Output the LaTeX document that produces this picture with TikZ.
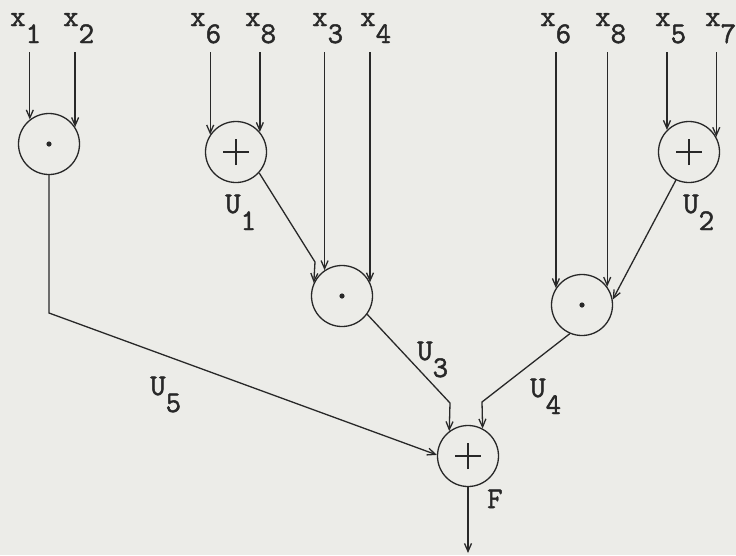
\documentclass[tikz,border=0pt]{standalone}
\usepackage{fontspec}
\usepackage{tikz}
\usetikzlibrary{arrows.meta}
\newfontfamily\typer{Latin Modern Mono}[FakeBold=1.6]
\definecolor{paper}{RGB}{236,236,232}
\definecolor{ink}{RGB}{40,40,40}
\newcommand{\sig}[2]{#1\raisebox{-17pt}{#2}}

\begin{document}
\begin{tikzpicture}[
  x=1pt, y=-1pt,
  lab/.style={inner sep=0pt, anchor=base west, text=ink, font=\fontsize{30}{30}\typer},
  op/.style={draw=ink, circle, line width=1.3pt, minimum size=61pt, inner sep=0pt},
  mul/.style={op, path picture={\fill[ink] (path picture bounding box.center) circle (2.6pt);}},
  add/.style={op, path picture={
      \draw[ink, line width=1.1pt] (path picture bounding box.center) ++(-13pt,0) -- ++(26pt,0);
      \draw[ink, line width=1.1pt] (path picture bounding box.center) ++(0,-13pt) -- ++(0,26pt);}},
  arr/.style={-{Straight Barb[length=8pt,width=7pt]}, line width=1.3pt, draw=ink}
]
\useasboundingbox[fill=paper] (0,0) rectangle (736,555);

% inputs
\node[lab] (lx1) at (10,26) {\sig{x}{1}};
\node[lab] (lx2) at (63,26) {\sig{x}{2}};
\node[lab] (lx6) at (190,26) {\sig{x}{6}};
\node[lab] (lx8) at (245,26) {\sig{x}{8}};
\node[lab] (lx3) at (312,26) {\sig{x}{3}};
\node[lab] (lx4) at (360,26) {\sig{x}{4}};
\node[lab] (lx6b) at (540,26) {\sig{x}{6}};
\node[lab] (lx8b) at (595,26) {\sig{x}{8}};
\node[lab] (lx5) at (655,26) {\sig{x}{5}};
\node[lab] (lx7) at (705,26) {\sig{x}{7}};

% operators
\node[mul] (g1) at (49,144) {};
\node[add] (u1) at (236,152) {};
\node[add] (u2) at (689,152) {};
\node[mul] (m) at (342,296) {};
\node[mul] (r) at (582,305) {};
\node[add] (F) at (468,456) {};

% signal names
\node[lab] (lu1) at (225,213) {\sig{U}{1}};
\node[lab] (lu2) at (683,213) {\sig{U}{2}};
\node[lab] (lu3) at (417,360) {\sig{U}{3}};
\node[lab] (lu4) at (530,397) {\sig{U}{4}};
\node[lab] (lu5) at (150,395) {\sig{U}{5}};
\node[lab] (lf) at (487,508) {F};

\coordinate (top) at (0,52);
\coordinate (k1) at (315,262);
\coordinate (k3) at (450,403);
\coordinate (k4) at (482,402);
\coordinate (k5) at (49,313);
\coordinate (out) at (468,553);

\draw[arr] (g1.128 |- top) -- (g1.128);
\draw[arr] (g1.33 |- top) -- (g1.33);
\draw[arr] (u1.146 |- top) -- (u1.146);
\draw[arr] (u1.40 |- top) -- (u1.40);
\draw[arr] (m.124 |- top) -- (m.124);
\draw[arr] (m.26 |- top) -- (m.26);
\draw[arr] (r.147 |- top) -- (r.147);
\draw[arr] (r.36 |- top) -- (r.36);
\draw[arr] (u2.135 |- top) -- (u2.135);
\draw[arr] (u2.29 |- top) -- (u2.29);

\draw[arr] (u1.-42) -- (k1) -- (m.155);
\draw[arr] (u2.245) -- (r.10);
\draw[arr] (m.-36) -- (k3) -- (F.127);
\draw[arr] (r.247) -- (k4) -- (F.62);
\draw[arr] (g1.south) -- (k5) -- (F.178);
\draw[arr] (F.south) -- (out);
\end{tikzpicture}
\end{document}
